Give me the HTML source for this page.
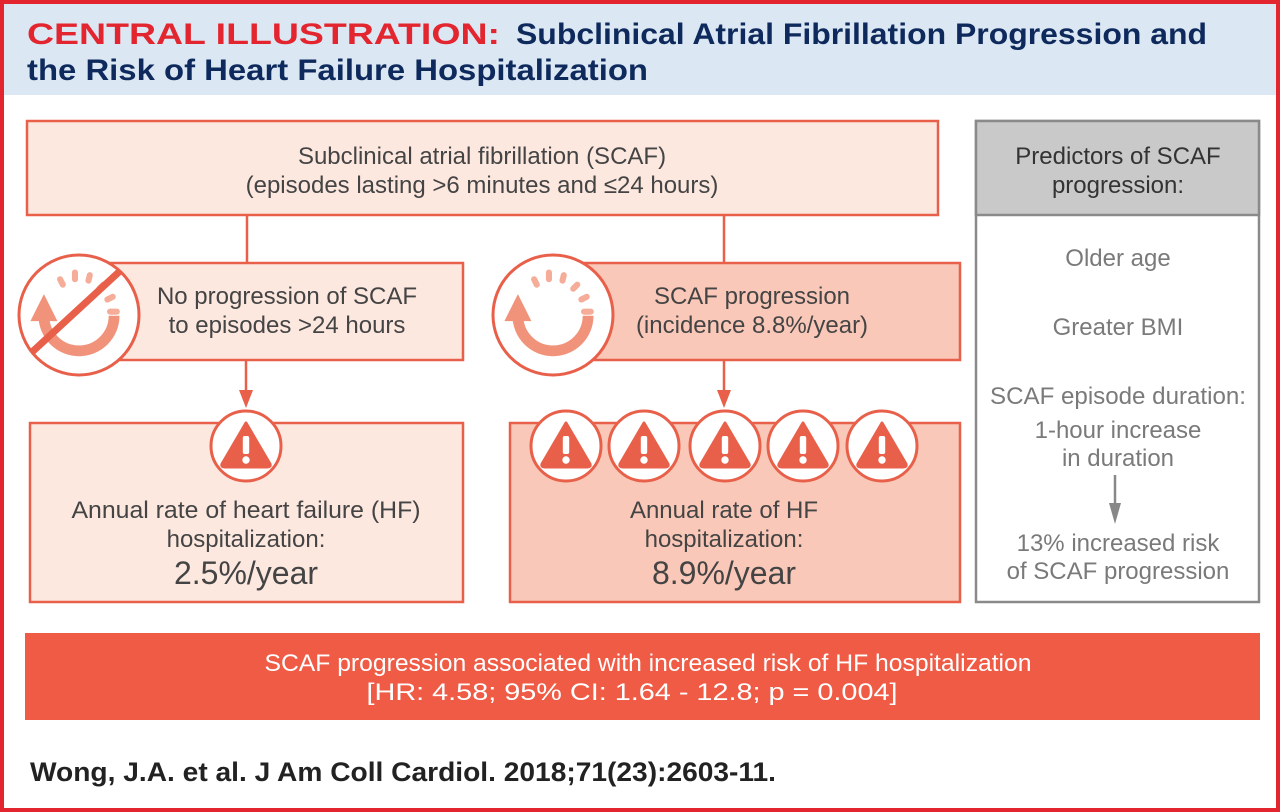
<!DOCTYPE html>
<html><head><meta charset="utf-8"><style>
html,body{margin:0;padding:0;background:#fff;}
svg{display:block;}
text{font-family:"Liberation Sans",sans-serif;}
</style></head><body>
<svg width="1280" height="812" viewBox="0 0 1280 812" xmlns="http://www.w3.org/2000/svg">
<defs>
<g id="warn">
<circle r="35" fill="#fff" stroke="#e8604a" stroke-width="3"/>
<path d="M0,-23 L24,18 Q25,21 21,21 L-21,21 Q-25,21 -24,18 Z" fill="#e8604a" stroke="#e8604a" stroke-width="3" stroke-linejoin="round"/>
<rect x="-3.2" y="-10" width="6.4" height="18" rx="2" fill="#fff"/>
<circle cy="14" r="3.7" fill="#fff"/>
</g>
<g id="cyc">
<circle r="60" fill="#fff" stroke="#e8604a" stroke-width="3"/>
<g transform="translate(0,-2) scale(1.35)">
<path d="M-26,2 A26,26 0 1 0 26,2" fill="none" stroke="#f0937a" stroke-width="8"/>
<path d="M-36,6 L-26,-14 L-16,6 Z" fill="#f0937a"/>
<g stroke="#f5ac98" stroke-width="4.5" stroke-linecap="round">
<line x1="-12" y1="-21" x2="-14" y2="-25"/>
<line x1="-3" y1="-25" x2="-3" y2="-30"/>
<line x1="7" y1="-24" x2="8" y2="-28"/>
<line x1="15" y1="-18" x2="18" y2="-21"/>
<line x1="21" y1="-10" x2="25" y2="-12"/>
<line x1="23" y1="-1" x2="28" y2="-1"/>
</g>
</g>
</g>
</defs>
<rect x="0" y="0" width="1280" height="812" fill="#fff"/>
<rect x="3" y="3" width="1274" height="92" fill="#dce7f4"/>
<rect x="2" y="2" width="1276" height="808" fill="none" stroke="#e2252e" stroke-width="4"/>
<text x="27" y="44" font-size="30" font-weight="bold" fill="#e2252e" textLength="473" lengthAdjust="spacingAndGlyphs">CENTRAL ILLUSTRATION:</text>
<text x="516" y="44" font-size="30" font-weight="bold" fill="#0e2a5c" textLength="691" lengthAdjust="spacingAndGlyphs">Subclinical Atrial Fibrillation Progression and</text>
<text x="27" y="80" font-size="30" font-weight="bold" fill="#0e2a5c" textLength="621" lengthAdjust="spacingAndGlyphs">the Risk of Heart Failure Hospitalization</text>

<rect x="27" y="121" width="911" height="94" fill="#fde8e0" stroke="#e8604a" stroke-width="2.5"/>
<g font-size="24" fill="#444" text-anchor="middle">
<text x="482" y="164">Subclinical atrial fibrillation (SCAF)</text>
<text x="482" y="193">(episodes lasting &gt;6 minutes and ≤24 hours)</text>
</g>
<line x1="247" y1="215" x2="247" y2="263" stroke="#e8604a" stroke-width="2.5"/>
<line x1="724" y1="215" x2="724" y2="263" stroke="#e8604a" stroke-width="2.5"/>

<rect x="100" y="263" width="363" height="97" fill="#fde8e0" stroke="#e8604a" stroke-width="2.5"/>
<rect x="580" y="263" width="380" height="97" fill="#fac8b8" stroke="#e8604a" stroke-width="2.5"/>
<g font-size="24" fill="#444" text-anchor="middle">
<text x="287" y="304">No progression of SCAF</text>
<text x="287" y="333">to episodes &gt;24 hours</text>
<text x="752" y="304">SCAF progression</text>
<text x="752" y="333">(incidence 8.8%/year)</text>
</g>
<use href="#cyc" x="79" y="315"/>
<line x1="31" y1="353" x2="120" y2="271" stroke="#e8604a" stroke-width="7"/>
<use href="#cyc" x="553" y="315"/>

<g stroke="#e8604a" stroke-width="2.5">
<line x1="246" y1="360" x2="246" y2="392"/>
<line x1="724" y1="360" x2="724" y2="392"/>
</g>
<path d="M239,390 L253,390 L246,408 Z" fill="#e8604a"/>
<path d="M717,390 L731,390 L724,408 Z" fill="#e8604a"/>

<rect x="30" y="423" width="433" height="179" fill="#fde8e0" stroke="#e8604a" stroke-width="2.5"/>
<rect x="510" y="423" width="450" height="179" fill="#fac8b8" stroke="#e8604a" stroke-width="2.5"/>
<use href="#warn" x="246" y="446"/>
<use href="#warn" x="566" y="446"/>
<use href="#warn" x="644" y="446"/>
<use href="#warn" x="725" y="446"/>
<use href="#warn" x="803" y="446"/>
<use href="#warn" x="882" y="446"/>
<g fill="#444" text-anchor="middle">
<text x="246" y="518" font-size="24" textLength="349" lengthAdjust="spacingAndGlyphs">Annual rate of heart failure (HF)</text>
<text x="246" y="547" font-size="24">hospitalization:</text>
<text x="246" y="584" font-size="32">2.5%/year</text>
<text x="724" y="518" font-size="24">Annual rate of HF</text>
<text x="724" y="547" font-size="24">hospitalization:</text>
<text x="724" y="584" font-size="32">8.9%/year</text>
</g>

<rect x="976" y="121" width="283" height="481" fill="#fff" stroke="#8a8a8a" stroke-width="2.5"/>
<rect x="976" y="121" width="283" height="94" fill="#c9c9c9" stroke="#8a8a8a" stroke-width="2.5"/>
<g text-anchor="middle" font-size="24">
<text x="1118" y="164" fill="#333">Predictors of SCAF</text>
<text x="1118" y="193" fill="#333">progression:</text>
<g fill="#7a7a7a">
<text x="1118" y="266">Older age</text>
<text x="1118" y="335">Greater BMI</text>
<text x="1118" y="404" textLength="256" lengthAdjust="spacingAndGlyphs">SCAF episode duration:</text>
<text x="1118" y="438">1-hour increase</text>
<text x="1118" y="466">in duration</text>
<text x="1118" y="551">13% increased risk</text>
<text x="1118" y="579">of SCAF progression</text>
</g>
</g>
<line x1="1115" y1="475" x2="1115" y2="505" stroke="#888" stroke-width="2.5"/>
<path d="M1109,503 L1121,503 L1115,524 Z" fill="#888"/>

<rect x="25" y="633" width="1235" height="87" fill="#ef5b45"/>
<g fill="#fff" font-size="24" text-anchor="middle">
<text x="648" y="671" textLength="767" lengthAdjust="spacingAndGlyphs">SCAF progression associated with increased risk of HF hospitalization</text>
<text x="632" y="700" textLength="531" lengthAdjust="spacingAndGlyphs">[HR:  4.58; 95% CI: 1.64 - 12.8; p = 0.004]</text>
</g>
<text x="30" y="781" font-size="27" font-weight="bold" fill="#222" textLength="746" lengthAdjust="spacingAndGlyphs">Wong, J.A. et al. J Am Coll Cardiol. 2018;71(23):2603-11.</text>
</svg>
</body></html>
